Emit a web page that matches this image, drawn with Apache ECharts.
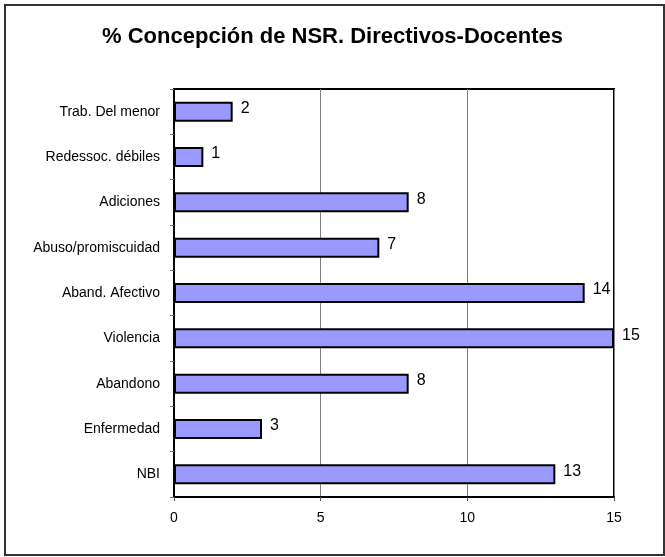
<!DOCTYPE html>
<html>
<head>
<meta charset="utf-8">
<script src="https://cdn.jsdelivr.net/npm/echarts@6/dist/echarts.min.js"></script>
<style>
html,body{margin:0;padding:0;background:#fff;}
#chart{width:665px;height:557px;}
</style>
</head>
<body>
<div id="chart"></div>
<script>
// categories listed bottom to top
const categories = ["NBI", "Enfermedad", "Abandono", "Violencia", "Aband. Afectivo", "Abuso/promiscuidad", "Adiciones", "Redessoc. débiles", "Trab. Del menor"];
const values = [13, 3, 8, 15, 14, 7, 8, 1, 2];
const xTicks = [0, 5, 10, 15];
const titleText = "% Concepción de NSR. Directivos-Docentes";

const chart = echarts.init(document.getElementById('chart'), null, {renderer: 'canvas'});
chart.setOption({
  animation: false,
  backgroundColor: '#ffffff',
  title: {
    text: titleText,
    left: 'center',
    top: 21,
    textStyle: {fontFamily: 'Liberation Sans, Arial, sans-serif', fontSize: 22, fontWeight: 'bold', color: '#000'}
  },
  graphic: [{
    type: 'rect',
    shape: {x: 5, y: 5, width: 659, height: 550},
    style: {fill: 'none', stroke: '#333', lineWidth: 2},
    silent: true
  }],
  grid: {left: 174, top: 89, right: 51, bottom: 60, show: true, borderColor: '#000', borderWidth: 2, containLabel: false},
  xAxis: {
    type: 'value',
    min: xTicks[0],
    max: xTicks[xTicks.length - 1],
    interval: 5,
    axisLine: {show: true, lineStyle: {color: '#000', width: 2}},
    axisTick: {show: true, length: 4, lineStyle: {color: '#555'}},
    axisLabel: {margin: 14, fontFamily: 'Liberation Sans, Arial, sans-serif', fontSize: 14, color: '#000'},
    splitLine: {show: true, lineStyle: {color: '#808080', width: 1}}
  },
  yAxis: {
    type: 'category',
    data: categories,
    axisLine: {show: true, lineStyle: {color: '#000', width: 2}},
    axisTick: {show: true, length: 4, lineStyle: {color: '#777'}},
    axisLabel: {margin: 14, fontFamily: 'Liberation Sans, Arial, sans-serif', fontSize: 14, color: '#000'},
    splitLine: {show: false}
  },
  series: [{
    type: 'bar',
    data: values,
    barWidth: 20,
    itemStyle: {color: '#9999FF', borderColor: '#000', borderWidth: 2},
    label: {show: true, position: 'right', distance: 8, fontFamily: 'Liberation Sans, Arial, sans-serif', fontSize: 16, color: '#000', offset: [0, -3]}
  }]
});
</script>
</body>
</html>
